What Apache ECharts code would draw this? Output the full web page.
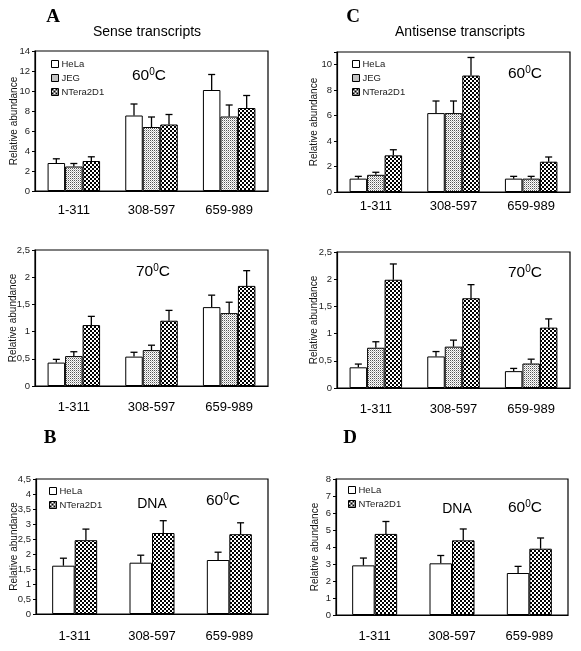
<!DOCTYPE html>
<html><head><meta charset="utf-8">
<script src="https://cdn.jsdelivr.net/npm/echarts@6/dist/echarts.min.js"></script>
<style>html,body{margin:0;padding:0;background:#fff}#c{width:581px;height:651px}</style>
</head><body><div id="c"></div>
<script>
// ---------- DATA ----------
const categories = ['1-311', '308-597', '659-989'];
const seriesNames3 = ['HeLa', 'JEG', 'NTera2D1'];
const seriesNames2 = ['HeLa', 'NTera2D1'];

// A: Sense transcripts, 60°C (mean, SD)
const a60HeLa = [2.8, 7.55, 10.1];   const a60HeLaSd = [0.42, 1.15, 1.55];
const a60JEG  = [2.45, 6.4, 7.45];   const a60JEGSd  = [0.3, 1.0, 1.15];
const a60NT   = [3.0, 6.65, 8.3];    const a60NTSd   = [0.42, 1.0, 1.25];
// A: Sense transcripts, 70°C
const a70HeLa = [0.43, 0.54, 1.45];  const a70HeLaSd = [0.06, 0.08, 0.22];
const a70JEG  = [0.55, 0.66, 1.34];  const a70JEGSd  = [0.08, 0.09, 0.2];
const a70NT   = [1.12, 1.2, 1.84];   const a70NTSd   = [0.16, 0.19, 0.28];
// C: Antisense transcripts, 60°C
const c60HeLa = [1.05, 6.2, 1.05];   const c60HeLaSd = [0.18, 0.95, 0.18];
const c60JEG  = [1.35, 6.2, 1.05];   const c60JEGSd  = [0.2, 0.95, 0.18];
const c60NT   = [2.88, 9.15, 2.38];  const c60NTSd   = [0.44, 1.42, 0.37];
// C: Antisense transcripts, 70°C
const c70HeLa = [0.38, 0.58, 0.31];  const c70HeLaSd = [0.06, 0.09, 0.05];
const c70JEG  = [0.74, 0.76, 0.45];  const c70JEGSd  = [0.11, 0.12, 0.08];
const c70NT   = [1.99, 1.65, 1.11];  const c70NTSd   = [0.29, 0.25, 0.16];
// B: DNA, 60°C
const bHeLa = [1.61, 1.71, 1.8];     const bHeLaSd = [0.25, 0.25, 0.26];
const bNT   = [2.46, 2.7, 2.66];     const bNTSd   = [0.37, 0.41, 0.38];
// D: DNA, 60°C
const dHeLa = [2.92, 3.04, 2.47];    const dHeLaSd = [0.43, 0.46, 0.39];
const dNT   = [4.77, 4.39, 3.9];     const dNTSd   = [0.73, 0.67, 0.63];

// Axis ranges
const yMax = { a60: 14, a70: 2.5, c60: 11, c70: 2.5, b: 4.5, d: 8 };
const yStep = { a60: 2, a70: 0.5, c60: 2, c70: 0.5, b: 0.5, d: 1 };
const yLastLabel = { a60: 14, a70: 2.5, c60: 10, c70: 2.5, b: 4.5, d: 8 };

// ---------- STYLES ----------
const FONT = "'Liberation Sans', Arial, sans-serif";
function makePattern(kind) {
  const c = document.createElement('canvas');
  const ctx = c.getContext('2d');
  if (kind === 'checker') {
    c.width = 4; c.height = 4;
    ctx.fillStyle = '#fff'; ctx.fillRect(0, 0, 4, 4);
    ctx.fillStyle = '#000'; ctx.fillRect(0, 0, 2, 2); ctx.fillRect(2, 2, 2, 2);
  } else {
    c.width = 2; c.height = 2;
    ctx.fillStyle = '#fff'; ctx.fillRect(0, 0, 2, 2);
    ctx.fillStyle = '#555'; ctx.fillRect(0, 0, 1, 1);
    ctx.fillStyle = '#bbb'; ctx.fillRect(1, 1, 1, 1);
  }
  return { image: c, repeat: 'repeat' };
}
const fills = { 'HeLa': '#ffffff', 'JEG': makePattern('dots'), 'NTera2D1': makePattern('checker') };

const panels = [
  { key: 'a60', grid: { left: 35, top: 51, width: 233, height: 140 }, bw: 17.5, lm: 13, ng: 16, names: seriesNames3,
    vals: [[a60HeLa, a60HeLaSd], [a60JEG, a60JEGSd], [a60NT, a60NTSd]] },
  { key: 'a70', grid: { left: 35, top: 250, width: 233, height: 136 }, bw: 17.5, lm: 15, ng: 17, names: seriesNames3,
    vals: [[a70HeLa, a70HeLaSd], [a70JEG, a70JEGSd], [a70NT, a70NTSd]] },
  { key: 'c60', grid: { left: 337, top: 52, width: 233, height: 140 }, bw: 17.5, lm: 8, ng: 18, names: seriesNames3,
    vals: [[c60HeLa, c60HeLaSd], [c60JEG, c60JEGSd], [c60NT, c60NTSd]] },
  { key: 'c70', grid: { left: 337, top: 252, width: 233, height: 136 }, bw: 17.5, lm: 15, ng: 18, names: seriesNames3,
    vals: [[c70HeLa, c70HeLaSd], [c70JEG, c70JEGSd], [c70NT, c70NTSd]] },
  { key: 'b', grid: { left: 36, top: 479, width: 232, height: 135 }, bw: 22.5, lm: 16, ng: 17, names: seriesNames2,
    vals: [[bHeLa, bHeLaSd], [bNT, bNTSd]] },
  { key: 'd', grid: { left: 336, top: 479, width: 232, height: 136 }, bw: 22.5, lm: 15, ng: 16, names: seriesNames2,
    vals: [[dHeLa, dHeLaSd], [dNT, dNTSd]] }
];

function errRender(idx, n, bw) {
  return function (params, api) {
    const ci = api.value(0), m = api.value(1), sd = api.value(2);
    const p0 = api.coord([ci, m]);
    const p1 = api.coord([ci, m + sd]);
    const x = p0[0] + (idx - (n - 1) / 2) * bw;
    return { type: 'group', children: [
      { type: 'line', shape: { x1: x, y1: p0[1], x2: x, y2: p1[1] }, style: { stroke: '#000', lineWidth: 1.3 } },
      { type: 'line', shape: { x1: x - 3.5, y1: p1[1], x2: x + 3.5, y2: p1[1] }, style: { stroke: '#000', lineWidth: 1.3 } }
    ]};
  };
}

const grids = [], xAxes = [], yAxes = [], series = [];
panels.forEach((p, pi) => {
  grids.push(Object.assign({ show: true, borderColor: '#000', borderWidth: 1.2, backgroundColor: '#fff' }, p.grid));
  xAxes.push({ type: 'category', gridIndex: pi, data: categories,
    axisLine: { lineStyle: { color: '#000', width: 1.2 } }, axisTick: { show: false },
    axisLabel: { fontFamily: FONT, fontSize: 13, color: '#000', margin: p.lm } });
  const last = yLastLabel[p.key];
  yAxes.push({ type: 'value', gridIndex: pi, min: 0, max: yMax[p.key], interval: yStep[p.key],
    name: 'Relative abundance', nameLocation: 'middle', nameGap: p.ng, nameRotate: 90, nameMoveOverlap: false,
    nameTextStyle: { fontFamily: FONT, fontSize: 10, color: '#111' },
    axisLine: { show: true, lineStyle: { color: '#000', width: 1.2 } },
    axisTick: { show: true, length: 3, lineStyle: { color: '#000' } },
    splitLine: { show: false },
    axisLabel: { fontFamily: FONT, fontSize: 9.5, color: '#222', margin: 5,
      formatter: v => (v > last + 1e-9) ? '' : String(v).replace('.', ',') } });
  const n = p.vals.length;
  p.vals.forEach((pair, si) => {
    const nm = p.names[si];
    series.push({ type: 'bar', name: nm, xAxisIndex: pi, yAxisIndex: pi, data: pair[0],
      barWidth: p.bw, barGap: '0%', animation: false,
      itemStyle: { color: fills[nm], borderColor: '#000', borderWidth: 1 } });
  });
  p.vals.forEach((pair, si) => {
    series.push({ type: 'custom', name: 'err' + pi + '_' + si, xAxisIndex: pi, yAxisIndex: pi,
      data: pair[0].map((m, ci) => [ci, m, pair[1][ci]]),
      renderItem: errRender(si, n, p.bw), z: 5, clip: false, animation: false, silent: true });
  });
});

function legendAt(left, top, data) {
  return { orient: 'vertical', left: left, top: top, data: data, icon: 'rect', itemWidth: 7, itemHeight: 7,
    itemGap: 2, padding: 0, selectedMode: false,
    itemStyle: { borderColor: '#000', borderWidth: 1 },
    textStyle: { fontFamily: FONT, fontSize: 9.5, color: '#222', lineHeight: 12, padding: [0, 0, 0, -2] } };
}

function degText(x, y, num) {
  return { type: 'text', x: x, y: y, style: {
    text: '{a|' + num + '}{s|0}{a|C}', align: 'center', verticalAlign: 'middle',
    rich: { a: { fontFamily: FONT, fontSize: 15.5, fill: '#000', lineHeight: 18 },
            s: { fontFamily: FONT, fontSize: 10, fill: '#000', verticalAlign: 'top', lineHeight: 9 } } } };
}
function plainText(x, y, t, font) {
  return { type: 'text', x: x, y: y, style: { text: t, font: font, fill: '#000', align: 'center', verticalAlign: 'middle' } };
}

const chart = echarts.init(document.getElementById('c'), null, { renderer: 'canvas' });
chart.setOption({
  backgroundColor: '#fff',
  animation: false,
  grid: grids, xAxis: xAxes, yAxis: yAxes, series: series,
  legend: [
    legendAt(51, 58, seriesNames3),
    legendAt(352, 58, seriesNames3),
    legendAt(49, 485, seriesNames2),
    legendAt(348, 484, seriesNames2)
  ],
  graphic: [
    plainText(53, 17, 'A', "bold 19px 'Liberation Serif', 'Times New Roman', serif"),
    plainText(353, 17, 'C', "bold 19px 'Liberation Serif', 'Times New Roman', serif"),
    plainText(50, 438, 'B', "bold 19px 'Liberation Serif', 'Times New Roman', serif"),
    plainText(350, 438, 'D', "bold 19px 'Liberation Serif', 'Times New Roman', serif"),
    plainText(147, 32, 'Sense transcripts', "14px 'Liberation Sans', Arial, sans-serif"),
    plainText(460, 32, 'Antisense transcripts', "14px 'Liberation Sans', Arial, sans-serif"),
    plainText(152, 504, 'DNA', "14px 'Liberation Sans', Arial, sans-serif"),
    plainText(457, 509, 'DNA', "14px 'Liberation Sans', Arial, sans-serif"),
    degText(149, 76, '60'),
    degText(525, 74, '60'),
    degText(153, 272, '70'),
    degText(525, 273, '70'),
    degText(223, 501, '60'),
    degText(525, 508, '60')
  ]
});
</script></body></html>
